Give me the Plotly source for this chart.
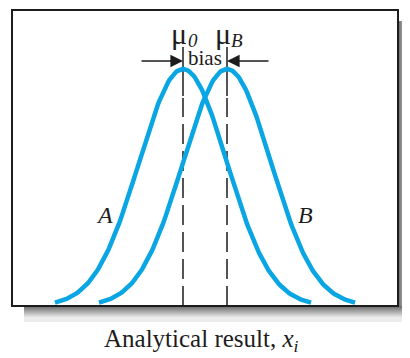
import numpy as np
import plotly.graph_objects as go

# ---- values (x in units of sigma, y relative to peak) ----
series_names = ["A", "B"]
means = [0.0, 1.0]          # mu_0 and mu_B (bias = 1 sigma)
sigma = 1.0
half_span = 2.91            # curves drawn out to about +/- 2.9 sigma
peak_height = 1.0
mean_labels = ["0", "B"]
x_title = "Analytical result, <i>x</i><sub><i>i</i></sub>"
bias_text = "bias"

# page body has an 8px margin; screen coordinates below are of the window
OFF = 8
W, H = 410 - OFF, 358 - OFF
FR_L, FR_R, FR_T, FR_B = 12, 398, 10, 306      # frame in screen px
ML, MT = FR_L - OFF, FR_T - OFF
MR, MB = W - (FR_R - OFF), H - (FR_B - OFF)
PW, PH = FR_R - FR_L, FR_B - FR_T
PX_PER_X = 44.0
X0_PX = 183.0
BASE_PX, PEAK_PX = 306.0, 69.0
PX_PER_Y = BASE_PX - PEAK_PX

def xd(px):
    return (px - X0_PX) / PX_PER_X

def yd(py):
    return (BASE_PX - py) / PX_PER_Y

def xp(px):
    return (px - FR_L) / PW

def yp(py):
    return (FR_B - py) / PH

CURVE = "#0AA6E4"
INK = "#1c1c1c"
FONT = "Liberation Serif"

fig = go.Figure()
for name, mu in zip(series_names, means):
    xs = np.linspace(mu - half_span * sigma, mu + half_span * sigma, 200)
    ys = peak_height * np.exp(-((xs - mu) ** 2) / (2 * sigma ** 2))
    fig.add_trace(go.Scatter(x=xs, y=ys, mode="lines", name=name,
                             line=dict(color=CURVE, width=4.5),
                             hoverinfo="skip", showlegend=False))

shapes = []
def grey(t, c0=110, c1=236):
    v = int(round(c0 + (c1 - c0) * t))
    return f"rgb({v},{v},{v})"

for i in range(16):
    t = min(1.0, i / 11.0)
    shapes.append(dict(type="rect", xref="paper", yref="paper",
                       x0=xp(24), x1=xp(412), y0=yp(306 + i), y1=yp(307 + i),
                       fillcolor=grey(t), line=dict(width=0), layer="below"))
for i in range(14):
    t = min(1.0, i / 11.0)
    shapes.append(dict(type="rect", xref="paper", yref="paper",
                       x0=xp(398 + i), x1=xp(399 + i), y0=yp(306), y1=yp(21),
                       fillcolor=grey(t), line=dict(width=0), layer="below"))
shapes.append(dict(type="rect", xref="paper", yref="paper", x0=0, x1=1, y0=0, y1=1,
                   line=dict(color=INK, width=2), fillcolor="rgba(0,0,0,0)", layer="above"))
for mu in means:
    shapes.append(dict(type="line", xref="x", yref="y", x0=mu, x1=mu, y0=0, y1=yd(98),
                       line=dict(color=INK, width=1.5, dash="20px,7px"), layer="below"))
    shapes.append(dict(type="line", xref="x", yref="y", x0=mu, x1=mu, y0=yd(96), y1=yd(47),
                       line=dict(color=INK, width=1.5), layer="below"))

ann = []
ann.append(dict(x=xd(104), y=yd(215), text="<i>A</i>", showarrow=False,
                font=dict(family=FONT, size=24, color=INK)))
ann.append(dict(x=xd(305), y=yd(215), text="<i>B</i>", showarrow=False,
                font=dict(family=FONT, size=24, color=INK)))
for mu, sub in zip(means, mean_labels):
    cx = X0_PX + mu * PX_PER_X
    ann.append(dict(x=xd(cx - 4), y=yd(33), text="\u03bc", showarrow=False,
                    font=dict(family=FONT, size=30, color=INK)))
    ann.append(dict(x=xd(cx + 9.5), y=yd(40), text=f"<i>{sub}</i>", showarrow=False,
                    font=dict(family=FONT, size=19, color=INK)))
ann.append(dict(x=xd(205), y=yd(58), text=bias_text, showarrow=False,
                font=dict(family=FONT, size=21, color=INK)))
ann.append(dict(x=means[0], y=yd(61), ax=-43, ay=0, text="", showarrow=True,
                arrowhead=2, arrowsize=1.8, arrowwidth=1.4, arrowcolor=INK,
                standoff=0, startstandoff=0))
ann.append(dict(x=means[1], y=yd(61), ax=43, ay=0, text="", showarrow=True,
                arrowhead=2, arrowsize=1.8, arrowwidth=1.4, arrowcolor=INK,
                standoff=0, startstandoff=0))
ann.append(dict(xref="paper", yref="paper", x=xp(201.5), y=yp(340), text=x_title,
                xanchor="center", yanchor="middle",
                showarrow=False, font=dict(family=FONT, size=25, color=INK)))

fig.update_layout(
    width=W, height=H,
    margin=dict(l=ML, r=MR, t=MT, b=MB, pad=0),
    paper_bgcolor="white", plot_bgcolor="white",
    xaxis=dict(range=[xd(FR_L), xd(FR_R)], visible=False, fixedrange=True),
    yaxis=dict(range=[0, yd(FR_T)], visible=False, fixedrange=True),
    shapes=shapes, annotations=ann, showlegend=False,
)
fig.write_html("out.html")
